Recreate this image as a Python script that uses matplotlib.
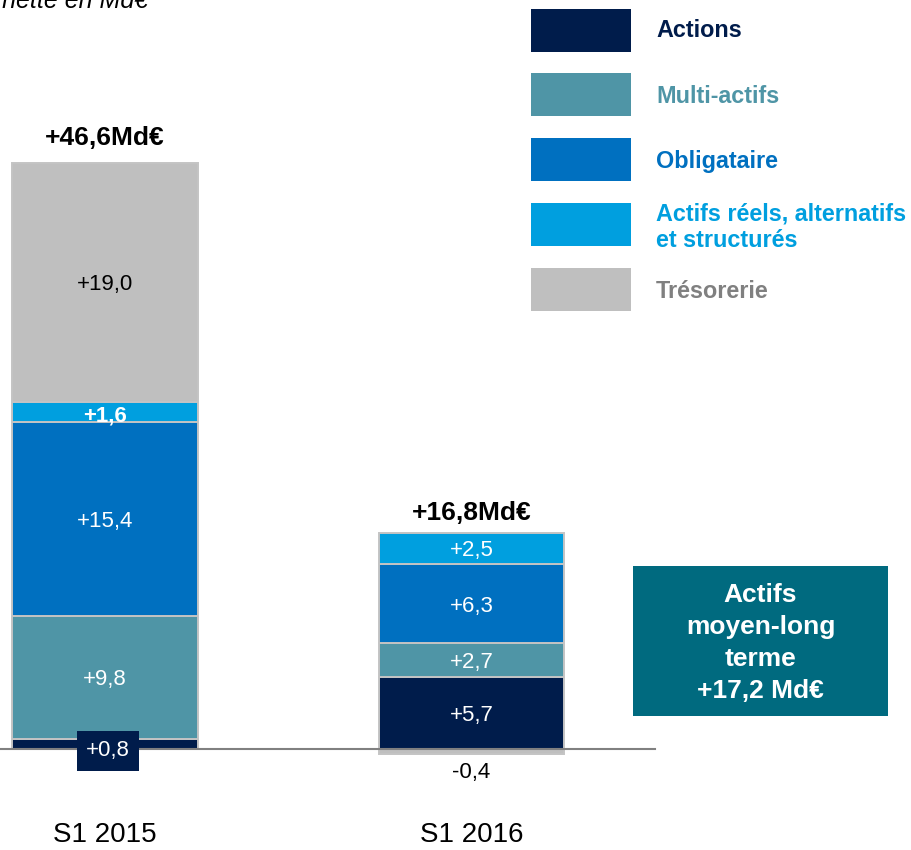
import matplotlib
matplotlib.use("Agg")
import matplotlib.pyplot as plt
from matplotlib.patches import Rectangle

plt.rcParams['font.family'] = ['Liberation Sans', 'DejaVu Sans']

# ---- data ----
categories = ['S1 2015', 'S1 2016']
series_names = ['Actions', 'Multi-actifs', 'Obligataire',
                'Actifs réels, alternatifs\net structurés', 'Trésorerie']
actions = [0.8, 5.7]
multi_actifs = [9.8, 2.7]
obligataire = [15.4, 6.3]
actifs_reels = [1.6, 2.5]
tresorerie = [19.0, -0.4]
totals = [46.6, 16.8]
totals_labels = ['+46,6Md€', '+16,8Md€']
moyen_long_label = ['Actifs', 'moyen-long', 'terme', '+17,2 Md€']

colors = ['#001C4B', '#4F95A6', '#0070C0', '#009FDF', '#BFBFBF']
text_colors = ['#001C4B', '#4F95A6', '#0070C0', '#009FDF', '#808080']

W, H = 911, 850
fig = plt.figure(figsize=(W / 100, H / 100), dpi=100)
ax = fig.add_axes([0, 0, 1, 1])
ax.set_xlim(-105 / 366.5, (W - 105) / 366.5)
ax.set_ylim((749 - H) / 12.58, 749 / 12.58)
ax.axis('off')

def fpx(x, y):
    return (x / W, 1 - y / H)

x = list(range(len(categories)))
width = 0.507
series = [actions, multi_actifs, obligataire, actifs_reels, tresorerie]
LFS = 16

pos_bottom = [0.0] * len(x)
for si, vals in enumerate(series):
    bottoms = []
    for i, v in enumerate(vals):
        if v >= 0:
            bottoms.append(pos_bottom[i])
        else:
            bottoms.append(0.0)
    ax.bar(x, vals, bottom=bottoms, width=width, color=colors[si],
           edgecolor='#C4C4C4', linewidth=1.4, zorder=2)
    for i, v in enumerate(vals):
        lab = ('+' if v > 0 else '') + f"{v:.1f}".replace('.', ',')
        cy = bottoms[i] + v / 2
        if si == 4 and v < 0:
            ax.text(i, v - 1.25, lab, ha='center', va='center_baseline', fontsize=LFS,
                    color='black', zorder=5)
        elif si == 4:
            ax.text(i, cy, lab, ha='center', va='center_baseline', fontsize=LFS,
                    color='black', zorder=5)
        elif si == 0 and v < 2:
            ax.text(i + 0.008, 0.05, lab, ha='center', va='center_baseline', fontsize=LFS,
                    color='white', zorder=5,
                    bbox=dict(boxstyle='square,pad=0.42', fc=colors[0], ec='none'))
        elif si == 3 and v < 2:
            ax.text(i, cy - 0.15, lab, ha='center', va='center_baseline', fontsize=LFS,
                    color='white', fontweight='bold', zorder=5)
        else:
            ax.text(i, cy, lab, ha='center', va='center_baseline', fontsize=LFS,
                    color='white', zorder=5)
    pos_bottom = [pos_bottom[i] + (v if v > 0 else 0) for i, v in enumerate(vals)]

# baseline
ax.plot([-0.3, 1.5], [0, 0], color='#808080', linewidth=1.5, zorder=4)

# totals
for i, t in enumerate(totals):
    ax.annotate(totals_labels[i], (i, t), xytext=(0, 13), textcoords='offset points',
                ha='center', va='baseline', fontsize=19, fontweight='bold',
                color='black', zorder=5)

# category labels
for i, c in enumerate(categories):
    ax.text(i, -7.39, c, ha='center', va='baseline', fontsize=20, color='black')

# title (clipped at top, as in the reference)
fig.text(*fpx(148, 8), 'Collecte nette en Md€', ha='right', va='baseline',
         fontsize=18, style='italic', color='black')

# legend
leg_tops = [9, 73, 138, 203, 268]
leg_baselines = [[37], [103], [168], [220, 247], [298]]
for k in range(5):
    x0, y0 = fpx(531, leg_tops[k] + 43)
    fig.patches.append(Rectangle((x0, y0), 100 / W, 43 / H, transform=fig.transFigure,
                                 facecolor=colors[k], edgecolor='none'))
    lines = series_names[k].split('\n')
    for li, line in enumerate(lines):
        fig.text(*fpx(656, leg_baselines[k][li]), line, ha='left', va='baseline',
                 fontsize=16.8, fontweight='bold', color=text_colors[k])

# teal box
bx0, by0 = fpx(633, 716)
fig.patches.append(Rectangle((bx0, by0), 255 / W, 150 / H, transform=fig.transFigure,
                             facecolor='#006A7F', edgecolor='none'))
for li, line in enumerate(moyen_long_label):
    fig.text(*fpx(760.5, 602 + 32 * li), line, ha='center', va='baseline',
             fontsize=19, fontweight='bold', color='white')

fig.savefig('out.png', dpi=100)
